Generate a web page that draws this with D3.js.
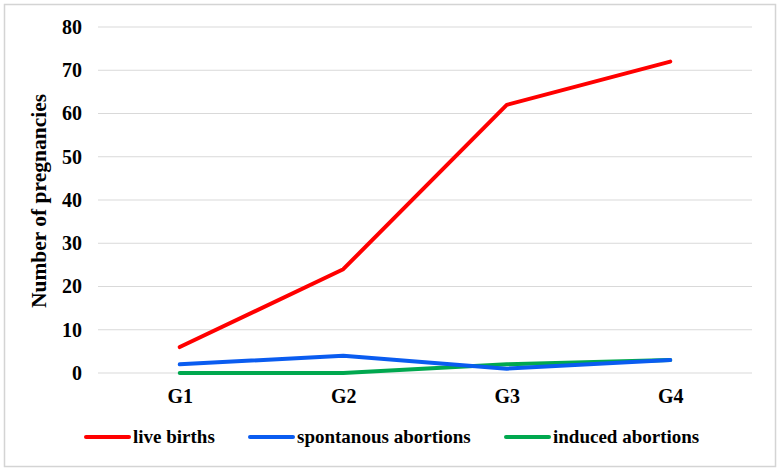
<!DOCTYPE html>
<html><head><meta charset="utf-8">
<script src="https://cdn.jsdelivr.net/npm/d3@7"></script>
<style>body{margin:0;background:#fff}svg{display:block}text{font-family:"Liberation Serif","Times New Roman",serif;font-weight:bold;fill:#000}</style>
</head><body><svg id="c" width="780" height="472"></svg>
<script>
const categories = ["G1","G2","G3","G4"];
const liveBirths = [6,24,62,72];
const spontaneous = [2,4,1,3];
const induced = [0,0,2,3];
const yTicks = [0,10,20,30,40,50,60,70,80];
const seriesNames = ["live births","spontanous abortions","induced abortions"];
const seriesColors = ["#ff0000","#0a5cf0","#00a84f"];

const svg = d3.select("#c");
svg.append("rect").attr("x",4.5).attr("y",4.5).attr("width",771).attr("height",462)
  .attr("fill","#fff").attr("stroke","#d4d4d4").attr("stroke-width",1.5);

const pL=98,pR=752,pT=27,pB=373;
const x = d3.scalePoint().domain(categories).range([pL,pR]).padding(0.5);
const y = d3.scaleLinear().domain([0,80]).range([pB,pT]);

const grid = svg.append("g");
grid.selectAll("line").data(yTicks).join("line")
  .attr("x1",pL).attr("x2",pR).attr("y1",d=>y(d)).attr("y2",d=>y(d))
  .attr("stroke","#d9d9d9").attr("stroke-width",1.2);

const yAxis = svg.append("g").attr("transform",`translate(${pL},0)`)
  .call(d3.axisLeft(y).tickValues(yTicks).tickSize(0).tickPadding(16));
yAxis.select(".domain").remove();
yAxis.selectAll("text").style("font-size","20px").style("font-family","Liberation Serif").attr("fill","#000");

const xAxis = svg.append("g").attr("transform",`translate(0,${pB})`)
  .call(d3.axisBottom(x).tickSize(0).tickPadding(16));
xAxis.select(".domain").remove();
xAxis.selectAll("text").style("font-size","20px").style("font-family","Liberation Serif").attr("fill","#000");

svg.append("text").attr("transform",`translate(46,201) rotate(-90)`)
  .attr("text-anchor","middle").style("font-size","21.5px").text("Number of pregnancies");

const data = [liveBirths,spontaneous,induced];
const line = d3.line().x((d,i)=>x(categories[i])).y(d=>y(d));
[2,1,0].forEach(k=>{
  svg.append("path").datum(data[k]).attr("d",line).attr("fill","none")
    .attr("stroke",seriesColors[k]).attr("stroke-width",4).attr("stroke-linecap","round").attr("stroke-linejoin","round");
});

const legX=[86,250,506];
const lg = svg.append("g");
seriesNames.forEach((n,i)=>{
  lg.append("line").attr("x1",legX[i]).attr("x2",legX[i]+43).attr("y1",437).attr("y2",437)
    .attr("stroke",seriesColors[i]).attr("stroke-width",4).attr("stroke-linecap","round");
  lg.append("text").attr("x",legX[i]+47).attr("y",443).style("font-size","19px").text(n);
});
</script></body></html>
